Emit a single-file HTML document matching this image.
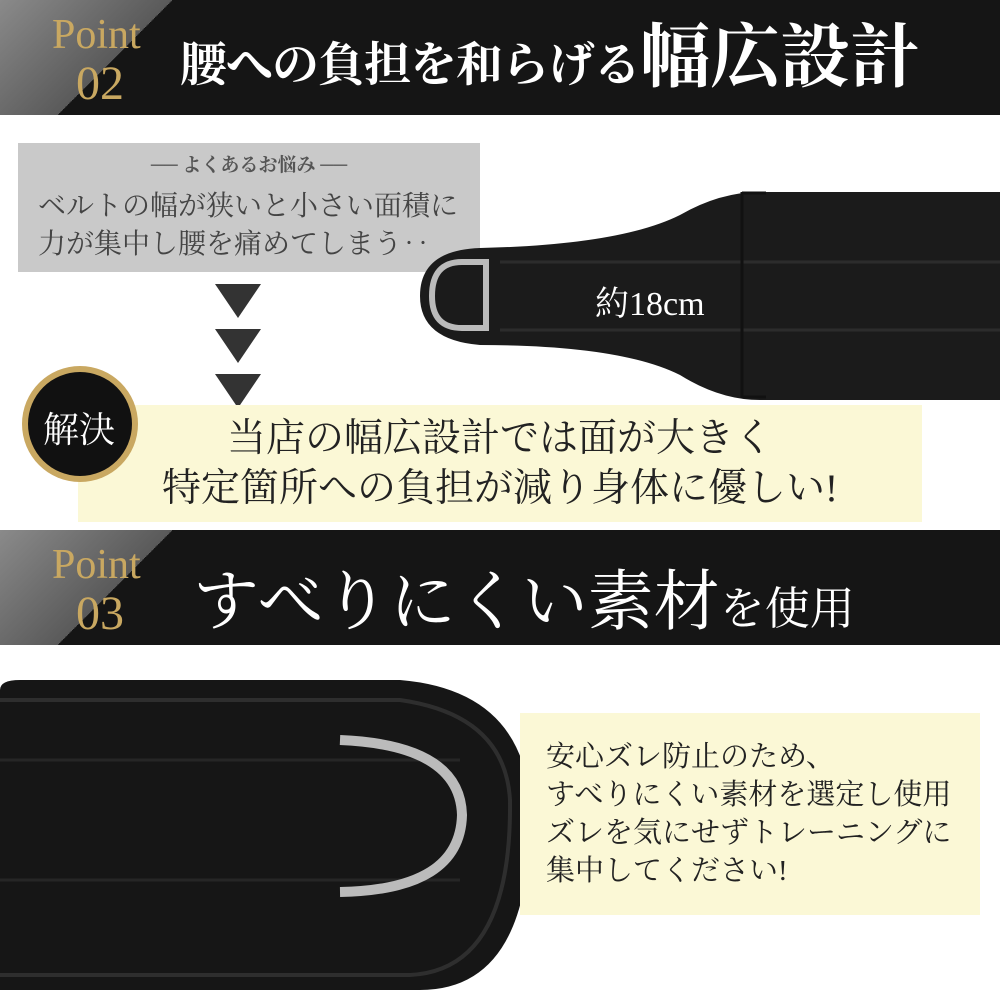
<!DOCTYPE html>
<html><head><meta charset="utf-8"><style>
*{margin:0;padding:0;box-sizing:border-box}
body{width:1000px;height:1000px;position:relative;background:#fff;overflow:hidden;font-family:"Liberation Serif","Noto Serif CJK SC","Noto Sans CJK JP",serif}
.abs{position:absolute}
.bar{left:0;width:1000px;height:115px;background:#151515;overflow:hidden}
.pt{color:#c9a861;font-size:42px;line-height:1}
.title{color:#fff;white-space:nowrap}
</style></head><body>
<div class="abs bar" style="top:0">
 <div class="abs" style="left:0;top:0;width:230px;height:115px;background:linear-gradient(135deg,#8a8a8a 0%,#5a5a5a 50%,transparent 50%)"></div>
 <div class="abs pt" style="left:52px;top:14px">Point</div>
 <div class="abs pt" style="left:76px;top:60px;font-size:48px">02</div>
 <div class="abs title" style="left:180px;top:14px;font-size:47px;font-weight:bold;letter-spacing:-1px;line-height:90px">腰への負担を和らげる<span style="font-size:70px;letter-spacing:0">幅広設計</span></div>
</div>
<div class="abs" style="left:18px;top:143px;width:462px;height:129px;background:#c9c9c9"></div>
<div class="abs" style="left:18px;top:150px;width:462px;text-align:center;color:#555;font-size:19px;font-weight:bold">── よくあるお悩み ──</div>
<div class="abs" style="left:38px;top:188px;color:#444;font-size:28px;line-height:38px;white-space:nowrap">ベルトの幅が狭いと小さい面積に<br>力が集中し腰を痛めてしまう‥</div>
<svg class="abs" style="left:0;top:0" width="1000" height="1000">
 <polygon points="215,284 261,284 238,318" fill="#333"/>
 <polygon points="215,329 261,329 238,363" fill="#333"/>
 <polygon points="215,374 261,374 238,408" fill="#333"/>
 <path d="M480,248 Q620,245 680,215 Q720,192 760,192 L1000,192 L1000,400 L760,400 Q720,400 680,375 Q620,345 480,345 Q420,340 420,296 Q420,250 480,248Z" fill="#1b1b1b"/>
 <path d="M500,262 L1000,262 M500,330 L1000,330" stroke="#2c2c2c" stroke-width="3"/>
 <path d="M462,262 Q432,262 432,296 Q432,328 462,328 L486,328 L486,262Z" fill="none" stroke="#bbb" stroke-width="6"/>
 <path d="M742,192 L742,398 M742,193 L766,193 M742,397 L766,397" stroke="#111" stroke-width="3" fill="none"/>
 <path d="M0,690 Q0,680 20,680 L400,680 Q520,690 530,800 Q535,990 420,990 L0,990Z" fill="#161616"/>
 <path d="M0,700 L400,700 Q505,715 510,800 Q512,970 410,975 L0,975" fill="none" stroke="#2e2e2e" stroke-width="4"/>
 <path d="M0,760 L460,760 M0,880 L460,880" stroke="#262626" stroke-width="3"/>
 <path d="M340,740 Q460,745 462,815 Q460,890 340,892" fill="none" stroke="#bbb" stroke-width="10"/>
</svg>
<div class="abs" style="left:595px;top:276px;color:#fff;font-size:34px">約18cm</div>
<div class="abs" style="left:78px;top:405px;width:844px;height:117px;background:#fbf8d6"></div>
<div class="abs" style="left:78px;top:414px;width:844px;text-align:center;color:#222;font-size:39px;line-height:50px;white-space:nowrap">当店の幅広設計では面が大きく<br>特定箇所への負担が減り身体に優しい!</div>
<svg class="abs" style="left:0;top:0" width="160" height="500">
 <circle cx="80" cy="424" r="58" fill="#c9a861"/>
 <circle cx="80" cy="424" r="52" fill="#111"/>
</svg>
<div class="abs" style="left:43px;top:402px;color:#fff;font-size:36px">解決</div>
<div class="abs bar" style="top:530px">
 <div class="abs" style="left:0;top:0;width:230px;height:115px;background:linear-gradient(135deg,#8a8a8a 0%,#5a5a5a 50%,transparent 50%)"></div>
 <div class="abs pt" style="left:52px;top:14px">Point</div>
 <div class="abs pt" style="left:76px;top:60px;font-size:48px">03</div>
 <div class="abs title" style="left:193px;top:18px;font-size:66px">すべりにくい素材<span style="font-size:45px">を使用</span></div>
</div>
<div class="abs" style="left:520px;top:713px;width:460px;height:202px;background:#fbf8d6"></div>
<div class="abs" style="left:546px;top:738px;color:#222;font-size:29px;line-height:38px;white-space:nowrap">安心ズレ防止のため、<br>すべりにくい素材を選定し使用<br>ズレを気にせずトレーニングに<br>集中してください!</div>
</body></html>
